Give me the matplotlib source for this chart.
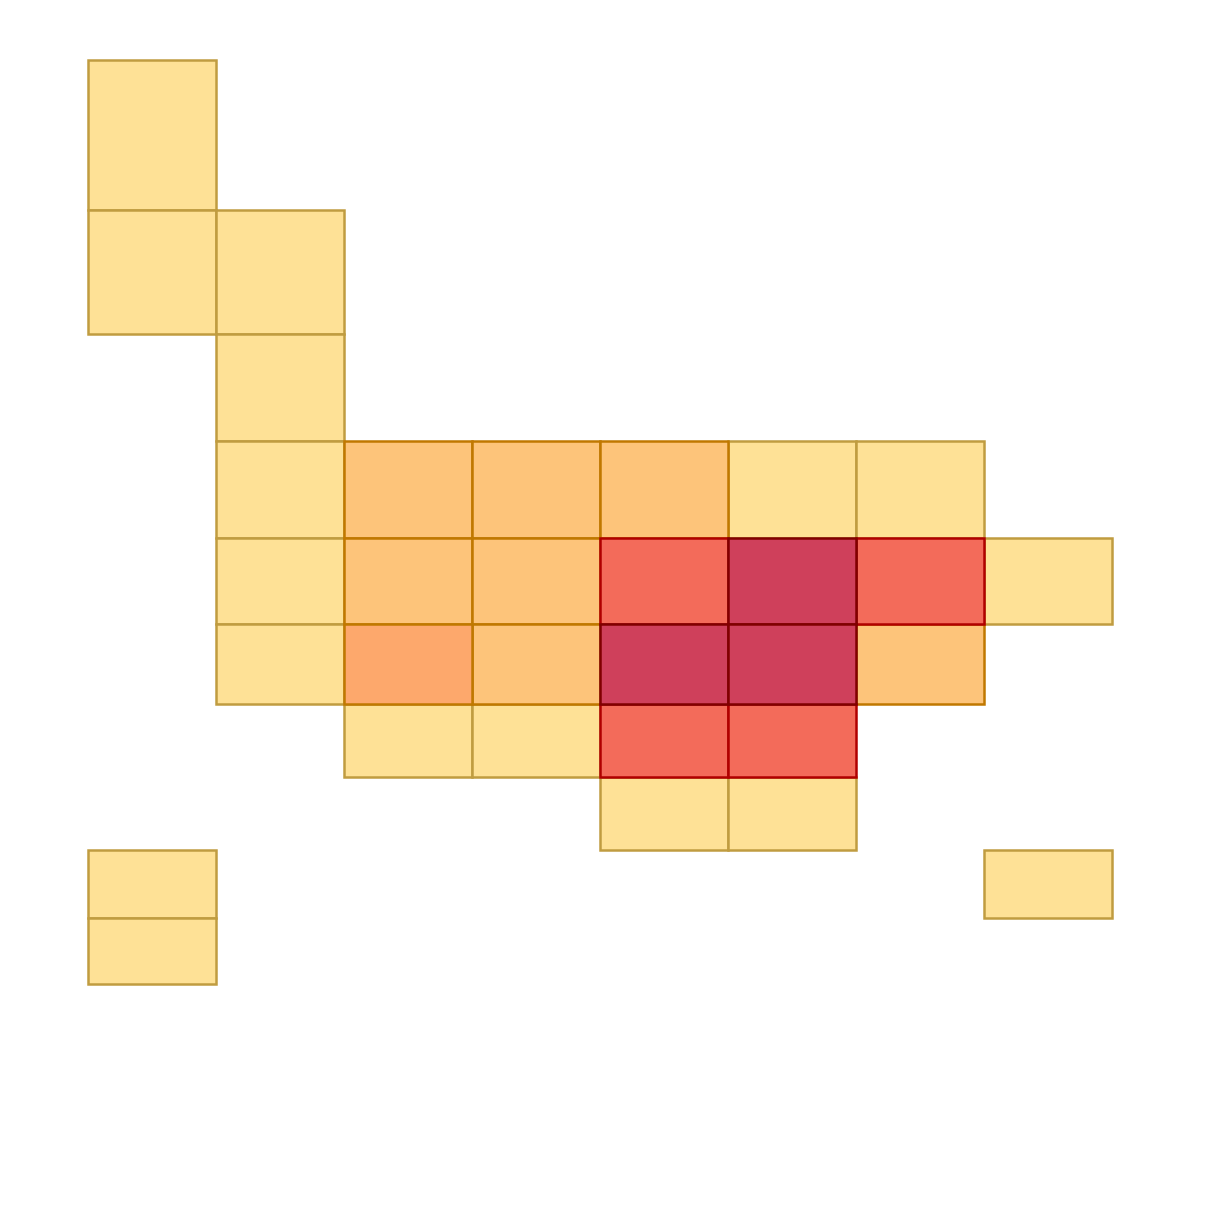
import numpy as np
import matplotlib.pyplot as plt

# bin edges (columns are uniform, rows are not)
x_edges = [0, 1, 2, 3, 4, 5, 6, 7, 8]
y_edges = [0, 150, 274, 381, 478, 564, 644, 717, 790, 858, 924]

# counts per cell, rows top->bottom, columns left->right
counts = [
    [1, 0, 0, 0, 0, 0, 0, 0],
    [1, 1, 0, 0, 0, 0, 0, 0],
    [0, 1, 0, 0, 0, 0, 0, 0],
    [0, 1, 2, 2, 2, 1, 1, 0],
    [0, 1, 2, 2, 4, 5, 4, 1],
    [0, 1, 3, 2, 5, 5, 2, 0],
    [0, 0, 1, 1, 4, 4, 0, 0],
    [0, 0, 0, 0, 1, 1, 0, 0],
    [1, 0, 0, 0, 0, 0, 0, 1],
    [1, 0, 0, 0, 0, 0, 0, 0],
]

fills = {1: "#fee196", 2: "#fdc47a", 3: "#fda86c", 4: "#f36b5a", 5: "#cf405b"}
edges = {1: "#c09c40", 2: "#c07800", 3: "#c07800", 4: "#b00000", 5: "#800000"}

fig = plt.figure(figsize=(12.28, 12.28), dpi=100)
ax = fig.add_axes([88 / 1228, 1 - 984 / 1228, 1024 / 1228, 924 / 1228])

counts = np.array(counts)
for level in sorted(fills):
    r, c = np.nonzero(counts == level)
    ax.bar([x_edges[j] for j in c], [y_edges[i + 1] - y_edges[i] for i in r],
           width=1, bottom=[y_edges[i] for i in r], align="edge",
           color=fills[level], edgecolor=edges[level], linewidth=1.8,
           clip_on=False)

ax.set_xlim(x_edges[0], x_edges[-1])
ax.set_ylim(y_edges[-1], y_edges[0])
ax.axis("off")

fig.savefig("out.png", dpi=100)
